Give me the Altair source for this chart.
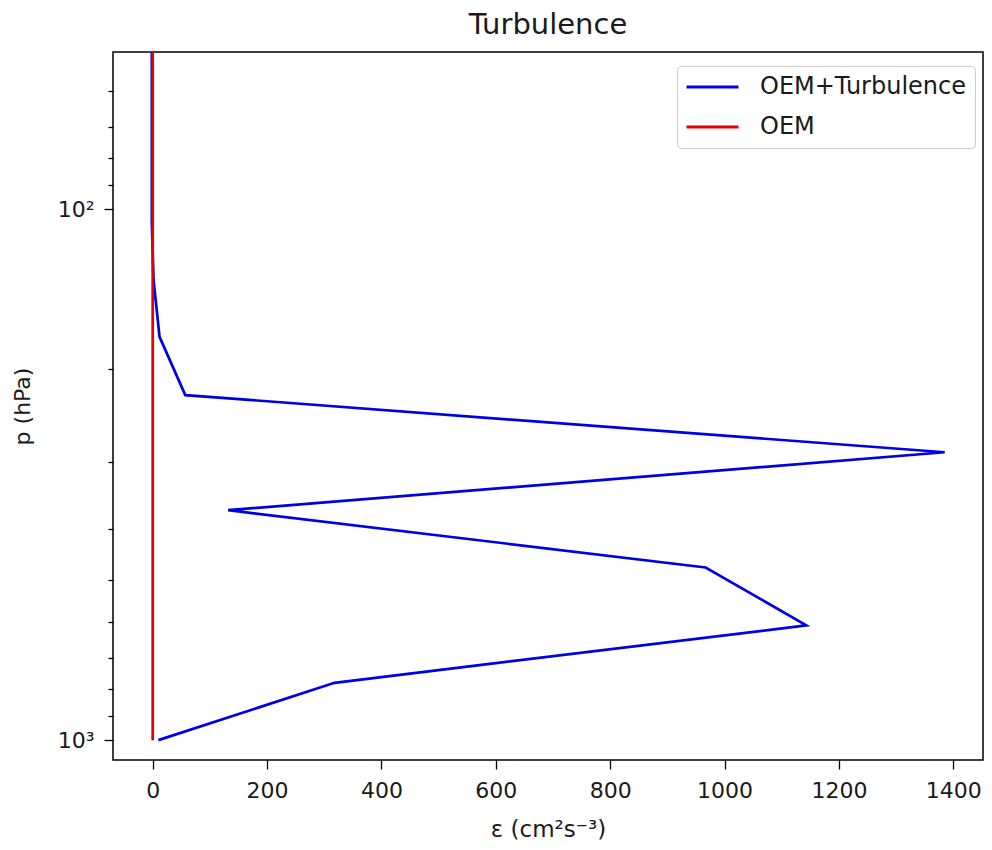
import altair as alt
import pandas as pd

# Pressure levels (hPa) and dissipation rates
pressure = [1000, 780, 608, 473, 369, 287, 224, 174, 136, 106, 82, 64, 50]
eps_turb = [10, 318, 1143, 967, 132, 1385, 57, 12, 1.5, -1.5, -1.5, -1.5, -1.5]
eps_oem = [0, 0, 0, 0, 0, 0, 0, 0, 0, 0, 0, 0, 0]

series_names = ["OEM+Turbulence", "OEM"]
series_colors = ["#0000e6", "#e60000"]

x_ticks = [0, 200, 400, 600, 800, 1000, 1200, 1400]
y_ticks = [50, 60, 70, 80, 90, 100, 200, 300, 400, 500, 600, 700, 800, 900, 1000]

rows = []
for i, (p, a, b) in enumerate(zip(pressure, eps_turb, eps_oem)):
    rows.append({"p": p, "eps": a, "series": series_names[0], "idx": i})
    rows.append({"p": p, "eps": b, "series": series_names[1], "idx": i})
df = pd.DataFrame(rows)

FONT = "DejaVu Sans"
TXT = "#1a1a1a"

color = alt.Color(
    "series:N",
    scale=alt.Scale(domain=series_names, range=series_colors),
    legend=alt.Legend(
        title=None, orient="none", legendX=564, legendY=14,
        symbolType="stroke", symbolSize=2700, symbolStrokeWidth=2.8,
        labelFontSize=24, labelFont=FONT, labelColor=TXT, labelLimit=0,
        labelOffset=20, padding=8, rowPadding=14, clipHeight=26,
        strokeColor="#cccccc", cornerRadius=4, fillColor="white",
    ),
)

x = alt.X(
    "eps:Q",
    scale=alt.Scale(domain=[-69.4, 1452], nice=False, zero=False),
    axis=alt.Axis(
        values=x_ticks, format="d", title="ε (cm²s⁻³)", grid=False, domain=False,
        labelFont=FONT, labelFontSize=22, labelColor=TXT, labelFlush=False,
        tickColor="black", tickWidth=1.3, tickSize=9, labelPadding=11,
        titleFont=FONT, titleFontSize=23, titleFontWeight="normal",
        titleColor=TXT, titlePadding=17,
    ),
)

y = alt.Y(
    "p:Q",
    scale=alt.Scale(type="log", domain=[50.6, 1090], reverse=True, nice=False),
    axis=alt.Axis(
        values=y_ticks, title="p (hPa)", grid=False, domain=False,
        labelExpr="datum.value == 100 ? '10²' : (datum.value == 1000 ? '10³' : '')",
        labelOverlap=False, labelFont=FONT, labelFontSize=22, labelColor=TXT,
        tickColor="black", tickWidth=1.3,
        tickSize={"condition": {"test": "datum.value == 100 || datum.value == 1000", "value": 9}, "value": 5},
        labelPadding=10,
        titleFont=FONT, titleFontSize=22, titleFontWeight="normal",
        titleColor=TXT, titlePadding=23,
    ),
)

base = alt.Chart(df).mark_line(clip=True, strokeWidth=2.7).encode(
    x=x, y=y, color=color, order="idx:Q"
)
blue = base.transform_filter(alt.datum.series == series_names[0])
red = base.transform_filter(alt.datum.series == series_names[1])

chart = (
    alt.layer(blue, red)
    .properties(
        width=870, height=708,
        title=alt.TitleParams("Turbulence", font=FONT, fontSize=29, fontWeight="normal",
                              color=TXT, anchor="middle", offset=12),
        padding={"left": 105, "top": 44, "right": 1, "bottom": 82},
        autosize=alt.AutoSizeParams(type="none"),
    )
    .configure_view(stroke="black", strokeWidth=1.5)
)

chart.save("out.html", embed_options={"renderer": "svg", "actions": False})
